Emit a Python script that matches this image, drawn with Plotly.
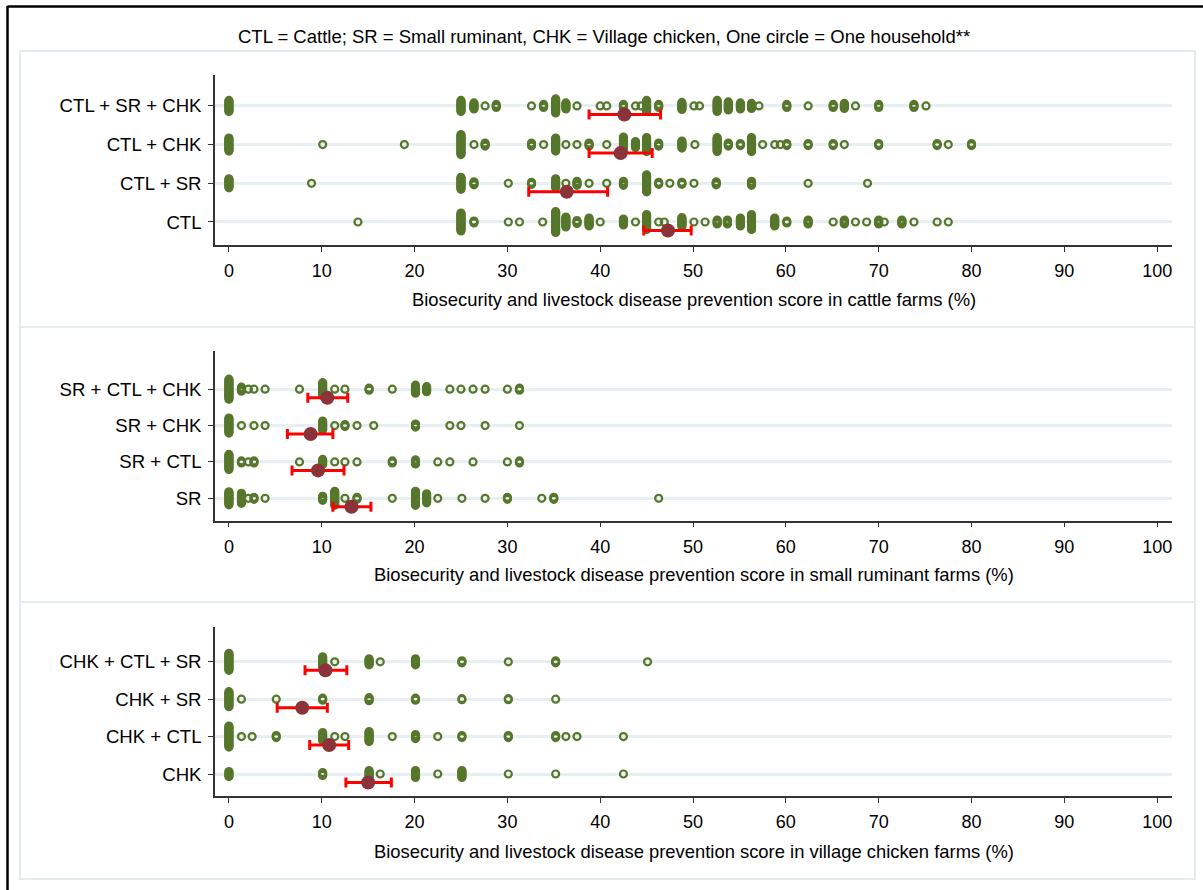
import plotly.graph_objects as go

W, H = 1203, 890

# ---------------- data ----------------
# Household scores (%) and number of households sharing each score.
# Categories are listed bottom-to-top within each panel.
cattle_cats = ["CTL", "CTL + SR", "CTL + CHK", "CTL + SR + CHK"]
ctl_vals = [13.9, 25.0, 26.4, 30.1, 31.3, 33.8, 35.2, 36.3, 37.5, 38.8, 40.0, 42.5, 43.8, 45.0,
            46.3, 46.9, 48.8, 50.1, 51.3, 52.6, 53.7, 55.1, 56.3, 58.8, 60.1, 62.4, 65.1, 66.3,
            67.5, 68.7, 70.0, 70.6, 72.5, 73.8, 76.3, 77.5]
ctl_n = [1, 19, 3, 1, 1, 1, 22, 11, 4, 9, 1, 7, 1, 16,
         1, 1, 10, 1, 1, 5, 5, 9, 16, 9, 3, 5, 1, 5,
         1, 1, 5, 1, 5, 1, 1, 1]
ctl_sr_vals = [0.0, 8.9, 25.0, 26.4, 30.1, 32.6, 35.2, 36.3, 37.5, 38.8, 40.7, 42.5, 45.0, 46.3,
               47.5, 48.8, 50.1, 52.5, 56.3, 62.4, 68.8]
ctl_sr_n = [10, 1, 13, 4, 1, 3, 10, 1, 5, 1, 1, 5, 18, 3,
            1, 3, 1, 4, 5, 1, 1]
ctl_chk_vals = [0.0, 10.1, 18.9, 25.0, 26.4, 27.6, 32.6, 33.9, 35.2, 36.3, 37.5, 38.8, 40.7, 42.5,
                43.8, 45.0, 46.3, 48.8, 50.2, 52.6, 53.8, 55.1, 56.3, 57.5, 58.8, 59.4, 60.1, 62.4,
                65.1, 66.3, 70.0, 76.3, 77.5, 80.0]
ctl_chk_n = [14, 1, 1, 21, 1, 4, 4, 1, 14, 1, 1, 4, 1, 16,
             7, 15, 4, 8, 1, 15, 4, 3, 15, 1, 1, 1, 3, 3,
             3, 1, 3, 3, 1, 3]
ctl_sr_chk_vals = [0.0, 25.0, 26.4, 27.6, 28.8, 32.6, 33.9, 35.2, 36.3, 37.5, 40.0, 40.7, 42.5, 43.8,
                   44.4, 45.0, 46.3, 48.8, 50.1, 50.7, 52.6, 53.8, 55.1, 56.3, 57.1, 60.1, 62.4,
                   65.1, 66.3, 67.5, 70.0, 73.8, 75.1]
ctl_sr_chk_n = [12, 12, 7, 1, 4, 1, 4, 15, 7, 1, 1, 1, 4, 1,
                1, 12, 4, 8, 1, 1, 12, 9, 7, 6, 1, 4, 1,
                4, 6, 1, 4, 4, 1]
cattle_mean = [47.3, 36.4, 42.2, 42.6]
cattle_lo = [44.7, 32.3, 38.8, 38.8]
cattle_hi = [49.8, 40.8, 45.6, 46.5]

sr_cats = ["SR", "SR + CTL", "SR + CHK", "SR + CTL + CHK"]
sr_vals = [0.0, 1.35, 2.1, 2.7, 3.9, 10.1, 11.4, 12.5, 13.8, 17.6, 20.1, 21.3, 22.5, 25.1,
           27.6, 30.0, 33.7, 35.0, 46.3]
sr_n = [14, 11, 1, 3, 1, 5, 15, 1, 3, 1, 15, 10, 1, 1,
        1, 3, 1, 3, 1]
sr_ctl_vals = [0.0, 1.35, 2.1, 2.7, 7.6, 10.1, 11.4, 12.5, 13.8, 17.6, 20.1, 22.5, 23.8, 26.3,
               30.0, 31.3]
sr_ctl_n = [16, 3, 1, 3, 1, 6, 1, 1, 1, 3, 5, 1, 1, 1,
            1, 3]
sr_chk_vals = [0.0, 1.35, 2.7, 3.9, 10.1, 11.4, 12.5, 13.8, 15.6, 20.1, 23.8, 25.0, 27.6, 31.3]
sr_chk_n = [16, 1, 1, 1, 10, 1, 3, 1, 1, 4, 1, 1, 1, 1]
sr_ctl_chk_vals = [0.0, 1.35, 2.1, 2.7, 3.9, 7.6, 10.1, 11.4, 12.5, 15.1, 17.6, 20.1, 21.3, 23.8,
                   25.0, 26.3, 27.6, 30.0, 31.3]
sr_ctl_chk_n = [21, 5, 1, 1, 1, 1, 14, 1, 1, 3, 1, 9, 6, 1,
                1, 1, 1, 1, 3]
sr_mean = [13.2, 9.6, 8.8, 10.6]
sr_lo = [11.2, 6.8, 6.3, 8.5]
sr_hi = [15.3, 12.4, 11.2, 12.8]

chk_cats = ["CHK", "CHK + CTL", "CHK + SR", "CHK + CTL + SR"]
chk_vals = [0.0, 10.1, 15.1, 16.3, 20.1, 22.5, 25.1, 30.1, 35.2, 42.5]
chk_n = [6, 4, 8, 1, 8, 1, 8, 1, 1, 1]
chk_ctl_vals = [0.0, 1.35, 2.5, 5.1, 10.1, 11.4, 12.5, 15.1, 17.6, 20.1, 22.5, 25.1, 30.1, 35.2,
                36.3, 37.5, 42.5]
chk_ctl_n = [22, 1, 1, 3, 9, 1, 1, 11, 1, 5, 1, 3, 3, 3,
             1, 1, 1]
chk_sr_vals = [0.0, 1.35, 5.1, 10.1, 15.1, 20.1, 25.1, 30.1, 35.2]
chk_sr_n = [16, 1, 1, 3, 4, 3, 2, 2, 1]
chk_ctl_sr_vals = [0.0, 10.1, 11.4, 15.1, 16.3, 20.1, 25.1, 30.1, 35.2, 45.1]
chk_ctl_sr_n = [18, 11, 1, 7, 1, 7, 3, 1, 3, 1]
chk_mean = [15.0, 10.8, 7.9, 10.4]
chk_lo = [12.6, 8.7, 5.2, 8.2]
chk_hi = [17.5, 12.9, 10.6, 12.7]

x_ticks = [0, 10, 20, 30, 40, 50, 60, 70, 80, 90, 100]
x_titles = [
    "Biosecurity and livestock disease prevention score in cattle farms (%)",
    "Biosecurity and livestock disease prevention score in small ruminant farms (%)",
    "Biosecurity and livestock disease prevention score in village chicken farms (%)",
]
main_title = "CTL = Cattle; SR = Small ruminant, CHK = Village chicken, One circle = One household**"

# ---------------- styling / geometry ----------------
GREEN = "#56772c"
MEAN_COL = "#8b3338"
CI_COL = "#ff0000"
GRID_COL = "#e8eff2"
BOX_COL = "#e3ebef"
AXIS_COL = "#333333"
FONT = "Liberation Sans, Arial, sans-serif"

X_LEFT, X_RIGHT = 215, 1172
X_RANGE = [-1.5, 101.6]

# pixel extent of each panel's plot area (top, bottom) and its y range
panels = [
    dict(cats=cattle_cats,
         groups=[(ctl_vals, ctl_n), (ctl_sr_vals, ctl_sr_n), (ctl_chk_vals, ctl_chk_n),
                 (ctl_sr_chk_vals, ctl_sr_chk_n)],
         mean=cattle_mean, lo=cattle_lo, hi=cattle_hi,
         top=75, bottom=245, yrange=[0.405, 4.80], box=(51, 327), title_y=299),
    dict(cats=sr_cats,
         groups=[(sr_vals, sr_n), (sr_ctl_vals, sr_ctl_n), (sr_chk_vals, sr_chk_n),
                 (sr_ctl_chk_vals, sr_ctl_chk_n)],
         mean=sr_mean, lo=sr_lo, hi=sr_hi,
         top=351, bottom=520.5, yrange=[0.389, 5.05], box=(327, 602), title_y=574),
    dict(cats=chk_cats,
         groups=[(chk_vals, chk_n), (chk_ctl_vals, chk_ctl_n), (chk_sr_vals, chk_sr_n),
                 (chk_ctl_sr_vals, chk_ctl_sr_n)],
         mean=chk_mean, lo=chk_lo, hi=chk_hi,
         top=627, bottom=796, yrange=[0.412, 4.93], box=(602, 879), title_y=851),
]

STACK_PX = 1.0      # vertical spacing between stacked households
MEAN_DROP_PX = 8.5  # mean/CI drawn just below the category line


def px_y(y):
    return 1 - y / H


fig = go.Figure()
layout = dict(
    width=W, height=H,
    margin=dict(l=0, r=0, t=0, b=0),
    paper_bgcolor="white", plot_bgcolor="white",
    showlegend=False,
    font=dict(family=FONT, size=18, color="#000000"),
)
shapes = []
annotations = []

for i, p in enumerate(panels):
    sfx = "" if i == 0 else str(i + 1)
    xa, ya = "x" + sfx, "y" + sfx
    units_per_px = (p["yrange"][1] - p["yrange"][0]) / (p["bottom"] - p["top"])

    # stacked household circles
    xs, ys = [], []
    for pos, (vals, counts) in enumerate(p["groups"], start=1):
        for v, n in zip(vals, counts):
            for k in range(n):
                xs.append(v)
                ys.append(pos + (k - (n - 1) / 2) * STACK_PX * units_per_px)
    fig.add_trace(go.Scatter(
        x=xs, y=ys, xaxis=xa, yaxis=ya, mode="markers", hoverinfo="x",
        marker=dict(symbol="circle-open", size=7, color=GREEN, line=dict(width=2.2, color=GREEN)),
    ))

    # mean with confidence interval
    pos = list(range(1, len(p["cats"]) + 1))
    my = [q - MEAN_DROP_PX * units_per_px for q in pos]
    fig.add_trace(go.Scatter(
        x=p["mean"], y=my, xaxis=xa, yaxis=ya, mode="markers",
        marker=dict(symbol="circle", size=14, color=MEAN_COL),
        error_x=dict(type="data", symmetric=False,
                     array=[h - m for h, m in zip(p["hi"], p["mean"])],
                     arrayminus=[m - l for m, l in zip(p["mean"], p["lo"])],
                     color=CI_COL, thickness=3, width=5),
    ))

    layout["xaxis" + sfx] = dict(
        domain=[X_LEFT / W, X_RIGHT / W], range=X_RANGE, anchor=ya,
        tickvals=x_ticks, ticktext=[str(t) for t in x_ticks],
        showline=True, linecolor=AXIS_COL, linewidth=1.5,
        ticks="outside", ticklen=5, tickwidth=1.2, tickcolor=AXIS_COL,
        showgrid=False, zeroline=False, ticklabelstandoff=4,
        tickfont=dict(size=18, family=FONT),
    )
    layout["yaxis" + sfx] = dict(
        domain=[px_y(p["bottom"]), px_y(p["top"])], range=p["yrange"], anchor=xa,
        tickvals=pos, ticktext=p["cats"],
        showline=True, linecolor=AXIS_COL, linewidth=1.5,
        ticks="outside", ticklen=5, tickwidth=1.2, tickcolor=AXIS_COL,
        showgrid=True, gridcolor=GRID_COL, gridwidth=3, zeroline=False,
        ticklabelstandoff=3,
        tickfont=dict(size=18.6, family=FONT),
    )

    # panel frame
    shapes.append(dict(type="rect", xref="paper", yref="paper",
                       x0=20 / W, x1=1195 / W, y0=px_y(p["box"][1]), y1=px_y(p["box"][0]),
                       line=dict(color=BOX_COL, width=2), layer="below"))
    annotations.append(dict(text=x_titles[i], xref="paper", yref="paper",
                            x=(X_LEFT + X_RIGHT) / 2 / W, y=px_y(p["title_y"]),
                            xanchor="center", yanchor="middle", showarrow=False,
                            font=dict(size=18.4, family=FONT)))

# outer frame (left and top edges)
shapes.append(dict(type="line", xref="paper", yref="paper",
                   x0=7.5 / W, x1=7.5 / W, y0=0, y1=px_y(6), line=dict(color="black", width=2.5)))
shapes.append(dict(type="line", xref="paper", yref="paper",
                   x0=7.5 / W, x1=1, y0=px_y(6.5), y1=px_y(6.5), line=dict(color="black", width=2.5)))

annotations.append(dict(text=main_title, xref="paper", yref="paper",
                        x=604 / W, y=px_y(37), xanchor="center", yanchor="middle",
                        showarrow=False, font=dict(size=18.5, family=FONT)))

layout["shapes"] = shapes
layout["annotations"] = annotations
fig.update_layout(**layout)
fig.write_html("out.html")
